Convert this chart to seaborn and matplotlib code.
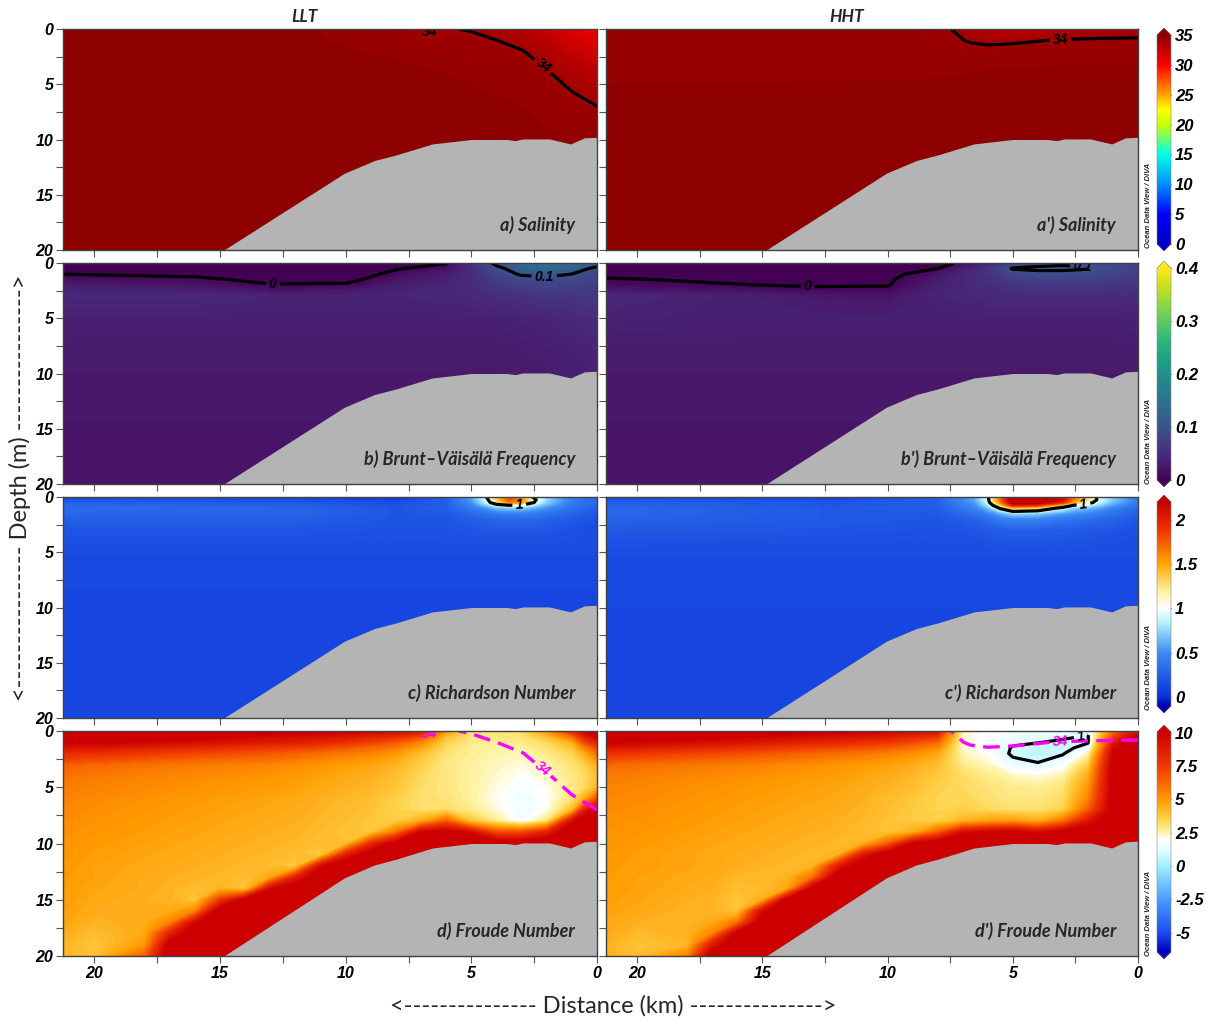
import numpy as np
import matplotlib
matplotlib.use("Agg")
import matplotlib.pyplot as plt
import seaborn as sns
from matplotlib.colors import LinearSegmentedColormap, Normalize
from matplotlib.cm import ScalarMappable
from matplotlib.ticker import FixedLocator, MultipleLocator

# ------------------------------------------------------------------ data
col_titles = ["LLT", "HHT"]
panel_labels = [["a) Salinity", "a') Salinity"],
                ["b) Brunt\u2013V\u00e4is\u00e4l\u00e4 Frequency", "b') Brunt\u2013V\u00e4is\u00e4l\u00e4 Frequency"],
                ["c) Richardson Number", "c') Richardson Number"],
                ["d) Froude Number", "d') Froude Number"]]
depth_ticks = [0, 5, 10, 15, 20]
dist_ticks = [0, 5, 10, 15, 20]

# bathymetry (distance km, depth m)
bathy_dist = [21.5, 14.85, 10.05, 8.85, 8.0, 6.55, 5.0, 3.6, 3.25, 2.95, 1.9, 1.05, 0.5, 0.0]
bathy_depth = [29.6, 20.0, 13.05, 11.9, 11.4, 10.4, 10.0, 10.0, 10.1, 9.95, 9.95, 10.4, 9.85, 9.8]

# salinity grid (rows = depth, cols = distance)
sal_dist = [0, 1, 2, 3, 4, 5, 6, 6.7, 7.5, 9, 12, 21.5]
sal_depth = [0, 1, 2, 3, 4, 6, 8, 10, 20]
sal_llt = [
    [30.5, 31.5, 32.4, 33.2, 33.6, 33.95, 34.05, 33.95, 34.1, 34.45, 34.8, 35.0],
    [31.2, 32.0, 32.9, 33.6, 34.0, 34.15, 34.15, 34.12, 34.25, 34.5, 34.85, 35.0],
    [31.8, 32.5, 33.5, 34.05, 34.2, 34.25, 34.3, 34.3, 34.4, 34.65, 34.9, 35.0],
    [32.4, 33.0, 33.85, 34.25, 34.35, 34.4, 34.5, 34.55, 34.7, 34.85, 35.0, 35.0],
    [32.9, 33.5, 34.1, 34.4, 34.5, 34.6, 34.7, 34.8, 34.9, 35.0, 35.0, 35.0],
    [33.7, 34.1, 34.4, 34.6, 34.7, 34.8, 34.85, 34.9, 35.0, 35.0, 35.0, 35.0],
    [34.3, 34.4, 34.6, 34.8, 34.85, 34.9, 35.0, 35.0, 35.0, 35.0, 35.0, 35.0],
    [34.6, 34.7, 34.8, 34.9, 35.0, 35.0, 35.0, 35.0, 35.0, 35.0, 35.0, 35.0],
    [35.0, 35.0, 35.0, 35.0, 35.0, 35.0, 35.0, 35.0, 35.0, 35.0, 35.0, 35.0],
]
sal_hht = [
    [33.6, 33.5, 33.3, 33.2, 33.1, 33.0, 33.3, 33.5, 34.02, 34.4, 34.55, 34.6],
    [34.1, 34.1, 34.1, 34.05, 33.95, 33.8, 33.8, 33.9, 34.2, 34.45, 34.55, 34.6],
    [34.4, 34.4, 34.4, 34.4, 34.4, 34.4, 34.25, 34.3, 34.4, 34.5, 34.6, 34.6],
    [34.6, 34.6, 34.6, 34.6, 34.6, 34.6, 34.55, 34.55, 34.55, 34.6, 34.6, 34.6],
    [34.85, 34.85, 34.85, 34.85, 34.8, 34.8, 34.75, 34.7, 34.65, 34.65, 34.6, 34.62],
    [34.95, 34.95, 34.95, 34.95, 34.95, 34.9, 34.9, 34.9, 34.9, 34.85, 34.85, 34.8],
    [35.0, 35.0, 35.0, 35.0, 35.0, 35.0, 35.0, 35.0, 35.0, 35.0, 35.0, 35.0],
    [35.0, 35.0, 35.0, 35.0, 35.0, 35.0, 35.0, 35.0, 35.0, 35.0, 35.0, 35.0],
    [35.0, 35.0, 35.0, 35.0, 35.0, 35.0, 35.0, 35.0, 35.0, 35.0, 35.0, 35.0],
]

# Brunt-Vaisala frequency grid
bvf_dist = [0, 1, 2, 3, 4, 5, 6, 8, 10, 13, 16, 21.5]
bvf_depth = [0, 0.5, 1, 1.5, 2, 3, 5, 8, 12, 16, 20]
bvf_llt = [
    [0.12, 0.14, 0.15, 0.14, 0.11, 0.06, -0.002, -0.03, -0.04, -0.04, -0.04, -0.04],
    [0.09, 0.12, 0.13, 0.12, 0.09, 0.05, 0.015, -0.003, -0.03, -0.03, -0.03, -0.03],
    [0.08, 0.10, 0.11, 0.105, 0.08, 0.05, 0.03, 0.01, -0.02, -0.02, -0.01, 0.0],
    [0.075, 0.085, 0.09, 0.085, 0.07, 0.05, 0.035, 0.02, -0.01, -0.012, 0.01, 0.015],
    [0.07, 0.075, 0.08, 0.075, 0.065, 0.05, 0.04, 0.03, 0.005, 0.003, 0.02, 0.03],
    [0.065, 0.06, 0.06, 0.055, 0.05, 0.045, 0.042, 0.04, 0.04, 0.04, 0.045, 0.045],
    [0.05, 0.045, 0.04, 0.038, 0.035, 0.035, 0.035, 0.035, 0.035, 0.035, 0.035, 0.035],
    [0.04, 0.036, 0.032, 0.03, 0.028, 0.028, 0.028, 0.028, 0.028, 0.028, 0.028, 0.028],
    [0.035, 0.03, 0.027, 0.025, 0.025, 0.025, 0.025, 0.025, 0.025, 0.025, 0.025, 0.025],
    [0.022, 0.022, 0.022, 0.022, 0.022, 0.022, 0.022, 0.022, 0.022, 0.022, 0.022, 0.022],
    [0.022, 0.022, 0.022, 0.022, 0.022, 0.022, 0.022, 0.022, 0.022, 0.022, 0.022, 0.022],
]
bvf_hht = [
    [0.07, 0.085, 0.095, 0.095, 0.09, 0.075, 0.04, -0.02, -0.04, -0.04, -0.04, -0.04],
    [0.075, 0.09, 0.102, 0.106, 0.106, 0.103, 0.06, 0.0, -0.02, -0.03, -0.03, -0.03],
    [0.07, 0.08, 0.085, 0.09, 0.09, 0.08, 0.06, 0.02, -0.01, -0.02, -0.02, -0.01],
    [0.065, 0.07, 0.075, 0.075, 0.075, 0.07, 0.055, 0.03, -0.005, -0.01, -0.008, 0.005],
    [0.06, 0.06, 0.065, 0.065, 0.065, 0.06, 0.05, 0.035, -0.002, -0.004, 0.002, 0.01],
    [0.05, 0.048, 0.048, 0.048, 0.048, 0.048, 0.045, 0.04, 0.02, 0.025, 0.035, 0.045],
    [0.038, 0.035, 0.035, 0.035, 0.035, 0.035, 0.035, 0.035, 0.035, 0.035, 0.035, 0.038],
    [0.028, 0.028, 0.028, 0.028, 0.028, 0.028, 0.028, 0.028, 0.028, 0.028, 0.028, 0.028],
    [0.025, 0.025, 0.025, 0.025, 0.025, 0.025, 0.025, 0.025, 0.025, 0.025, 0.025, 0.025],
    [0.022, 0.022, 0.022, 0.022, 0.022, 0.022, 0.022, 0.022, 0.022, 0.022, 0.022, 0.022],
    [0.022, 0.022, 0.022, 0.022, 0.022, 0.022, 0.022, 0.022, 0.022, 0.022, 0.022, 0.022],
]

# Richardson number grids
ri_depth = [0, 0.25, 0.5, 0.75, 1, 1.5, 2, 3, 5, 10, 20]
ri_llt_dist = [0, 1, 2, 2.5, 3, 3.5, 4, 4.5, 5, 6, 8, 12, 21.5]
ri_llt = [
    [0.3, 0.4, 0.7, 0.95, 1.3, 1.6, 1.4, 0.9, 0.6, 0.2, 0.05, 0.1, 0.15],
    [0.3, 0.4, 0.75, 1.05, 1.6, 1.8, 1.3, 0.85, 0.55, 0.25, 0.1, 0.15, 0.2],
    [0.3, 0.4, 0.7, 1.0, 1.5, 1.6, 1.2, 0.8, 0.5, 0.25, 0.15, 0.2, 0.25],
    [0.28, 0.38, 0.6, 0.8, 0.95, 1.0, 0.9, 0.65, 0.45, 0.25, 0.18, 0.25, 0.3],
    [0.25, 0.35, 0.5, 0.6, 0.7, 0.7, 0.65, 0.5, 0.4, 0.25, 0.2, 0.28, 0.32],
    [0.2, 0.28, 0.35, 0.4, 0.42, 0.42, 0.4, 0.35, 0.3, 0.22, 0.2, 0.3, 0.3],
    [0.18, 0.22, 0.28, 0.3, 0.3, 0.3, 0.3, 0.27, 0.25, 0.2, 0.2, 0.25, 0.25],
    [0.15, 0.18, 0.2, 0.2, 0.2, 0.2, 0.2, 0.2, 0.2, 0.18, 0.18, 0.2, 0.2],
    [0.15, 0.15, 0.15, 0.15, 0.15, 0.15, 0.15, 0.15, 0.15, 0.15, 0.15, 0.15, 0.15],
    [0.12, 0.12, 0.12, 0.12, 0.12, 0.12, 0.12, 0.12, 0.12, 0.12, 0.12, 0.12, 0.12],
    [0.12, 0.12, 0.12, 0.12, 0.12, 0.12, 0.12, 0.12, 0.12, 0.12, 0.12, 0.12, 0.12],
]
ri_hht_dist = [0, 1, 1.5, 2, 2.5, 3, 4, 5, 5.5, 6, 6.5, 8, 12, 21.5]
ri_hht = [
    [0.4, 0.7, 0.9, 1.2, 1.5, 2.0, 2.3, 2.3, 1.6, 0.95, 0.6, 0.2, 0.1, 0.15],
    [0.4, 0.7, 0.9, 1.25, 1.6, 2.1, 2.4, 2.4, 1.7, 0.95, 0.6, 0.25, 0.15, 0.2],
    [0.4, 0.65, 0.85, 1.1, 1.4, 1.9, 2.3, 2.3, 1.6, 0.9, 0.55, 0.25, 0.2, 0.25],
    [0.35, 0.55, 0.7, 0.85, 0.95, 1.3, 1.9, 2.0, 1.3, 0.8, 0.5, 0.25, 0.2, 0.28],
    [0.3, 0.45, 0.55, 0.65, 0.7, 0.9, 1.3, 1.4, 1.05, 0.65, 0.45, 0.25, 0.22, 0.3],
    [0.25, 0.35, 0.4, 0.45, 0.5, 0.55, 0.7, 0.75, 0.6, 0.45, 0.35, 0.22, 0.22, 0.3],
    [0.2, 0.28, 0.3, 0.33, 0.35, 0.38, 0.45, 0.45, 0.4, 0.33, 0.28, 0.2, 0.22, 0.28],
    [0.17, 0.2, 0.2, 0.22, 0.22, 0.24, 0.25, 0.25, 0.24, 0.22, 0.2, 0.18, 0.2, 0.22],
    [0.15, 0.15, 0.15, 0.15, 0.15, 0.15, 0.15, 0.15, 0.15, 0.15, 0.15, 0.15, 0.15, 0.15],
    [0.13, 0.13, 0.13, 0.13, 0.13, 0.13, 0.13, 0.13, 0.13, 0.13, 0.13, 0.13, 0.13, 0.13],
    [0.13, 0.13, 0.13, 0.13, 0.13, 0.13, 0.13, 0.13, 0.13, 0.13, 0.13, 0.13, 0.13, 0.13],
]

# Froude number grids: one depth profile per distance column
fr_dist = [0, 0.5, 1, 2, 3, 4, 5, 6, 7, 8, 9, 10, 11, 12, 13, 14, 15, 16, 17, 18, 20, 21.5]
fr_depth = [0, 0.5, 1, 1.5, 2, 3, 4, 5, 6, 7, 8, 9, 10, 11, 12, 13, 14, 15, 16, 17, 18, 19, 20]
fr_llt = [
    [11, 10, 8.5, 7.0, 6.0, 4.5, 4.0, 4.2, 7.0, 10.5] + [11] * 13,
    [10, 8.5, 7.0, 5.5, 4.5, 3.5, 3.2, 3.2, 4.5, 8.5] + [11] * 13,
    [8.0, 6.0, 4.5, 3.8, 3.4, 3.0, 2.9, 2.8, 3.0, 4.0, 9.5] + [11] * 12,
    [5.0, 4.0, 3.3, 3.0, 2.8, 2.5, 2.3, 2.1, 2.0, 2.0, 3.0, 8.5] + [11] * 11,
    [3.2, 3.0, 2.8, 2.6, 2.4, 2.2, 2.0, 1.8, 1.6, 1.6, 1.8, 7.0] + [11] * 11,
    [3.0, 2.9, 2.7, 2.6, 2.5, 2.4, 2.3, 2.2, 2.1, 2.2, 2.8, 7.0] + [11] * 11,
    [3.0, 2.9, 2.8, 2.7, 2.7, 2.6, 2.6, 2.6, 2.6, 2.8, 3.8, 9.5] + [11] * 11,
    [5.0, 4.0, 3.5, 3.2, 3.0, 2.9, 2.9, 2.9, 3.0, 3.2, 6.5, 10.5] + [11] * 11,
    [9.0, 7.0, 5.5, 4.6, 4.0, 3.5, 3.3, 3.2, 3.1, 3.1, 4.5, 10.0] + [11] * 11,
    [9.6, 8.0, 6.6, 5.7, 5.0, 4.3, 4.0, 3.8, 3.6, 3.5, 3.6, 6.0, 10.5] + [11] * 10,
    [9.8, 8.4, 7.2, 6.2, 5.5, 4.7, 4.4, 4.2, 4.0, 3.9, 3.8, 3.8, 8.0] + [11] * 10,
    [10, 8.9, 7.8, 6.6, 5.8, 4.9, 4.6, 4.4, 4.2, 4.1, 4.0, 3.9, 4.0, 8.5] + [11] * 9,
    [10.3, 9.2, 8.3, 7.0, 6.1, 5.1, 4.8, 4.6, 4.4, 4.3, 4.2, 4.1, 4.0, 3.6, 9.5] + [11] * 8,
    [10.5, 9.4, 8.6, 7.3, 6.4, 5.3, 5.0, 4.8, 4.6, 4.5, 4.4, 4.3, 4.2, 4.0, 3.6, 8.5] + [11] * 7,
    [10.7, 9.6, 8.8, 7.5, 6.6, 5.5, 5.1, 4.9, 4.7, 4.6, 4.5, 4.4, 4.3, 4.2, 4.1, 4.6, 9.5] + [11] * 6,
    [10.8, 9.8, 9.0, 7.7, 6.8, 5.6, 5.2, 5.0, 4.8, 4.7, 4.6, 4.5, 4.4, 4.3, 4.2, 4.0, 3.8, 10.5] + [11] * 5,
    [11, 10, 9.2, 7.9, 7.0, 5.7, 5.3, 5.1, 4.9, 4.8, 4.7, 4.6, 4.5, 4.4, 4.3, 4.2, 4.3, 7.5] + [11] * 5,
    [11, 10.2, 9.4, 8.1, 7.1, 5.8, 5.4, 5.2, 5.0, 4.9, 4.8, 4.7, 4.6, 4.5, 4.4, 4.3, 4.0, 3.8, 5.5, 9.5] + [11] * 3,
    [11, 10.3, 9.6, 8.3, 7.3, 5.9, 5.5, 5.3, 5.1, 5.0, 4.9, 4.8, 4.7, 4.6, 4.5, 4.4, 4.3, 4.3, 4.5, 5.5, 8.5, 10.5, 11],
    [11, 10.5, 9.8, 8.5, 7.5, 6.0, 5.6, 5.4, 5.2, 5.1, 5.0, 4.9, 4.8, 4.7, 4.6, 4.5, 4.5, 4.4, 4.4, 4.5, 4.6, 5.0, 6.5],
    [11, 10.5, 10, 9.0, 7.8, 6.3, 5.8, 5.6, 5.4, 5.3, 5.2, 5.1, 5.0, 4.9, 4.8, 4.8, 4.7, 4.6, 4.5, 4.3, 4.0, 3.8, 3.9],
    [11, 10.5, 10, 9.0, 8.0, 6.5, 6.0, 5.8, 5.6, 5.5, 5.4, 5.3, 5.2, 5.2, 5.1, 5.0, 5.0, 5.0, 4.9, 4.8, 4.6, 4.4, 4.3],
]
fr_hht = [
    [9.0, 10, 10.5] + [11] * 20,
    [8.0, 9.0, 10, 10.5] + [11] * 19,
    [6.0, 7.0, 8.5, 9.5, 10, 10.5, 10.5, 10.5, 10.5, 10.5] + [11] * 13,
    [1.3, 0.9, 0.9, 1.5, 2.4, 3.6, 4.5, 5.0, 5.5, 6.5, 9.0] + [11] * 12,
    [1.5, 1.2, 0.8, 0.6, 0.9, 1.8, 2.5, 3.0, 3.2, 3.5, 6.0, 10.5] + [11] * 11,
    [1.6, 1.3, 1.05, 0.6, 0.4, 1.15, 2.2, 2.7, 2.9, 3.1, 4.5, 9.5] + [11] * 11,
    [1.7, 1.5, 1.2, 0.9, 0.8, 1.4, 2.4, 2.8, 2.9, 3.1, 5.0, 10.5] + [11] * 11,
    [2.0, 1.9, 1.9, 1.9, 2.0, 2.4, 2.8, 3.0, 3.1, 3.3, 4.8, 10.0] + [11] * 11,
    [2.4, 2.3, 2.3, 2.3, 2.4, 2.8, 3.2, 3.3, 3.4, 3.5, 4.3, 9.5] + [11] * 11,
    [9.0, 7.5, 6.2, 5.3, 4.6, 4.0, 3.7, 3.5, 3.4, 3.4, 3.6, 6.5, 11] + [11] * 10,
    [9.5, 8.2, 7.0, 6.0, 5.2, 4.5, 4.2, 4.0, 3.8, 3.7, 3.7, 4.5, 10] + [11] * 10,
    [9.8, 8.7, 7.5, 6.5, 5.6, 4.8, 4.5, 4.3, 4.1, 4.0, 3.9, 3.9, 6.5, 11] + [11] * 9,
    [10, 9.0, 7.9, 6.8, 5.9, 5.0, 4.7, 4.5, 4.4, 4.3, 4.2, 4.1, 4.3, 8.8] + [11] * 9,
    [10.2, 9.2, 8.2, 7.0, 6.1, 5.1, 4.9, 4.7, 4.6, 4.5, 4.4, 4.3, 4.2, 4.3, 8.5] + [11] * 8,
    [10.4, 9.4, 8.4, 7.2, 6.3, 5.3, 5.0, 4.8, 4.7, 4.6, 4.5, 4.4, 4.3, 4.2, 4.3, 6.0, 10.5] + [11] * 6,
    [10.6, 9.6, 8.6, 7.4, 6.5, 5.4, 5.1, 4.9, 4.8, 4.7, 4.6, 4.5, 4.4, 4.3, 4.2, 4.3, 4.6, 10.5] + [11] * 5,
    [10.8, 9.8, 8.9, 7.7, 6.7, 5.6, 5.2, 5.0, 4.9, 4.8, 4.7, 4.6, 4.5, 4.4, 4.3, 4.2, 4.1, 4.5, 9.5] + [11] * 4,
    [11, 10, 9.1, 7.9, 6.9, 5.7, 5.3, 5.1, 5.0, 4.9, 4.8, 4.7, 4.6, 4.5, 4.4, 4.2, 4.0, 3.8, 3.8, 6.0, 10.5] + [11] * 2,
    [11, 10.1, 9.3, 8.1, 7.0, 5.8, 5.4, 5.2, 5.1, 5.0, 4.9, 4.8, 4.7, 4.6, 4.6, 4.5, 4.4, 4.3, 4.3, 4.6, 5.5, 8.8, 11],
    [11, 10.2, 9.5, 8.3, 7.2, 5.9, 5.5, 5.3, 5.2, 5.1, 5.0, 4.9, 4.8, 4.7, 4.7, 4.6, 4.5, 4.4, 4.3, 4.3, 4.4, 4.2, 5.5],
    [11, 10.4, 9.8, 8.7, 7.5, 6.1, 5.7, 5.5, 5.4, 5.3, 5.2, 5.1, 5.0, 4.9, 4.9, 4.8, 4.8, 4.7, 4.6, 4.4, 4.1, 3.9, 4.0],
    [11, 10.5, 10, 9.0, 7.8, 6.3, 5.8, 5.6, 5.5, 5.4, 5.3, 5.2, 5.2, 5.1, 5.0, 5.0, 4.9, 4.9, 4.8, 4.7, 4.6, 4.5, 4.5],
]

# colour bar definitions
sal_range, sal_cticks = (0, 35), [0, 5, 10, 15, 20, 25, 30, 35]
bvf_range, bvf_cticks = (0, 0.4), [0, 0.1, 0.2, 0.3, 0.4]
ri_range, ri_cticks = (-0.1, 2.2), [0, 0.5, 1, 1.5, 2]
fr_range, fr_cticks = (-6.4, 10), [-5, -2.5, 0, 2.5, 5, 7.5, 10]
sal_nodes = [(0, '#0000c0'), (5, '#0000ff'), (10, '#0090ff'), (15, '#00ffe8'), (20, '#c8ff00'),
             (22.5, '#ffff00'), (25, '#ffa500'), (30, '#ff0000'), (35, '#8b0000')]
ri_nodes = [(-0.1, '#0000b0'), (0, '#0a30d8'), (0.5, '#3c8cf5'), (0.85, '#b8f4ff'), (1.0, '#ffffff'),
            (1.2, '#fff0a0'), (1.5, '#ffa800'), (1.9, '#f03000'), (2.2, '#c40000')]
fr_nodes = [(-6.4, '#0000c0'), (-5, '#1a4cf0'), (-2.5, '#4a9cff'), (0, '#a0f0ff'), (1.0, '#d8fcff'),
            (2.0, '#ffffff'), (2.6, '#fff2a0'), (3.5, '#ffd24a'), (5, '#ff9a00'), (7.5, '#f03800'),
            (10, '#cc0000')]

# ------------------------------------------------------------------ style
sns.set_theme(style="ticks")
plt.rcParams['font.family'] = ['Liberation Sans', 'DejaVu Sans']
LABEL_FONT = ['Lato', 'Liberation Sans', 'DejaVu Sans']
TICK_FONT = ['Liberation Sans', 'DejaVu Sans']


def node_cmap(name, nodes):
    lo, hi = nodes[0][0], nodes[-1][0]
    cm = LinearSegmentedColormap.from_list(name, [((v - lo) / (hi - lo), c) for v, c in nodes], N=512)
    cm.set_under(nodes[0][1])
    cm.set_over(nodes[-1][1])
    return cm


sal_cmap = node_cmap('sal', sal_nodes)
bvf_cmap = sns.color_palette("viridis", as_cmap=True).copy()
bvf_cmap.set_under(bvf_cmap(0.0))
bvf_cmap.set_over(bvf_cmap(1.0))
ri_cmap = node_cmap('ri', ri_nodes)
fr_cmap = node_cmap('fr', fr_nodes)

fig = plt.figure(figsize=(12.06, 10.25), dpi=100)
W, H = 1206.0, 1025.0


def px_axes(x0, y0, x1, y1):
    return fig.add_axes([x0 / W, 1 - y1 / H, (x1 - x0) / W, (y1 - y0) / H])


row_px = [(29, 250), (263, 484), (497, 718), (731, 956)]
col_px = [(63, 597), (606, 1138)]
cbar_px = [(28, 251), (261, 487), (495, 713), (725, 959)]


def grid(values_rows):
    return np.asarray(values_rows, dtype=float)


rows_cfg = [
    dict(fields=[(sal_dist, sal_depth, grid(sal_llt)), (sal_dist, sal_depth, grid(sal_hht))],
         cmap=sal_cmap, rng=sal_range, cticks=sal_cticks, levels=[34], fmt={34: '34'},
         manual=[[(6.65, 0.25), (2.1, 3.2)], [(3.1, 1.0)]]),
    dict(fields=[(bvf_dist, bvf_depth, grid(bvf_llt)), (bvf_dist, bvf_depth, grid(bvf_hht))],
         cmap=bvf_cmap, rng=bvf_range, cticks=bvf_cticks, levels=[0, 0.1], fmt={0: '0', 0.1: '0.1'},
         manual=[[(12.9, 1.9), (2.1, 1.2)], [(13.2, 2.1), (2.2, 0.3)]]),
    dict(fields=[(ri_llt_dist, ri_depth, grid(ri_llt)), (ri_hht_dist, ri_depth, grid(ri_hht))],
         cmap=ri_cmap, rng=ri_range, cticks=ri_cticks, levels=[1], fmt={1: '1'},
         manual=[[(3.1, 0.1)], [(2.2, 0.2)]]),
    dict(fields=[(fr_dist, fr_depth, grid(fr_llt).T), (fr_dist, fr_depth, grid(fr_hht).T)],
         cmap=fr_cmap, rng=fr_range, cticks=fr_cticks, levels=[1], fmt={1: '1'},
         manual=[[], [(2.3, 0.35)]]),
]
sal_fields = [grid(sal_llt), grid(sal_hht)]
magenta_manual = [[(6.65, 0.25), (2.1, 3.2)], [(3.1, 1.0)]]


def style_text(texts, size, color='black'):
    for t in texts:
        t.set_fontweight('bold')
        t.set_fontstyle('italic')
        t.set_fontsize(size)
        t.set_color(color)
        t.set_family(TICK_FONT)


for r, cfg in enumerate(rows_cfg):
    norm = Normalize(vmin=cfg['rng'][0], vmax=cfg['rng'][1])
    levels = np.linspace(cfg['rng'][0], cfg['rng'][1], 121)
    for c in range(2):
        y0, y1 = row_px[r]
        x0, x1 = col_px[c]
        ax = px_axes(x0, y0, x1, y1)
        dist, depth, vals = cfg['fields'][c]
        X, Z = np.meshgrid(dist, depth)
        ax.contourf(X, Z, vals, levels=levels, cmap=cfg['cmap'], norm=norm, extend='both', zorder=1)
        cs = ax.contour(X, Z, vals, levels=cfg['levels'], colors='black', linewidths=2.3, zorder=2)
        man = cfg['manual'][c]
        if man:
            labs = ax.clabel(cs, fmt=cfg['fmt'], inline=True, inline_spacing=3, manual=man, fontsize=10)
            style_text(labs, 10)
        if r == 3:
            SX, SZ = np.meshgrid(sal_dist, sal_depth)
            ms = ax.contour(SX, SZ, sal_fields[c], levels=[34], colors='#ff00ff', linewidths=2.4,
                            linestyles=[(0, (5, 2.5))], zorder=2)
            mlabs = ax.clabel(ms, fmt={34: '34'}, inline=True, inline_spacing=3,
                              manual=magenta_manual[c], fontsize=10)
            style_text(mlabs, 10, '#ff00ff')
        # bathymetry
        ax.fill_between(bathy_dist, bathy_depth, 40, color='#b4b4b4', lw=0, zorder=3)
        ax.set_xlim(21.25, 0)
        ax.set_ylim(20, 0)
        ax.xaxis.set_major_locator(FixedLocator(dist_ticks))
        ax.xaxis.set_minor_locator(MultipleLocator(2.5))
        ax.yaxis.set_major_locator(FixedLocator(depth_ticks))
        ax.yaxis.set_minor_locator(MultipleLocator(2.5))
        ax.tick_params(which='both', direction='out', length=5, width=0.8, color='#555555', pad=2)
        if c == 0:
            ax.set_yticklabels([str(v) for v in depth_ticks])
            style_text(ax.get_yticklabels(), 11.5)
        else:
            ax.set_yticklabels([])
        if r == 3:
            ax.set_xticklabels([str(v) for v in dist_ticks])
            style_text(ax.get_xticklabels(), 11.5)
        else:
            ax.set_xticklabels([])
        for sp in ax.spines.values():
            sp.set_color('#404040')
            sp.set_linewidth(1.0)
            sp.set_zorder(5)
        ax.text(1 - 22.0 / (x1 - x0), 25.0 / (y1 - y0), panel_labels[r][c], transform=ax.transAxes,
                ha='right', va='center', fontsize=13, fontweight='bold', fontstyle='italic',
                family=LABEL_FONT, zorder=6)
        if r == 0:
            fig.text((x0 + (x1 - x0) / 2 - 25) / W, 1 - 17 / H, col_titles[c], ha='center', va='center',
                     fontsize=12.5, fontweight='bold', fontstyle='italic', family=LABEL_FONT)

    # colour bar
    cy0, cy1 = cbar_px[r]
    cax = px_axes(1157, cy0, 1171, cy1)
    cb = fig.colorbar(ScalarMappable(norm=norm, cmap=cfg['cmap']), cax=cax, extend='both',
                      extendfrac=0.035, ticks=cfg['cticks'])
    cb.set_ticklabels([('%g' % v) for v in cfg['cticks']])
    cb.outline.set_linewidth(0.4)
    cb.outline.set_edgecolor('#888888')
    cax.tick_params(direction='in', length=4, width=0.8, color='#333333', pad=3)
    style_text(cax.get_yticklabels(), 12)
    fig.text(1149 / W, 1 - (cy1 - 3) / H, 'Ocean Data View / DIVA', rotation=90, ha='center', va='bottom',
             fontsize=5.5, fontweight='bold', fontstyle='italic', family=TICK_FONT)

# axis titles
fig.text(20 / W, 1 - 488 / H, '<' + '-' * 16 + ' Depth (m) ' + '-' * 16 + '>', rotation=90,
         ha='center', va='center', fontsize=17, family=LABEL_FONT)
fig.text(613 / W, 1 - 1006 / H, '<' + '-' * 15 + ' Distance (km) ' + '-' * 15 + '>',
         ha='center', va='center', fontsize=17, family=LABEL_FONT)

fig.savefig('out.png', dpi=100)
